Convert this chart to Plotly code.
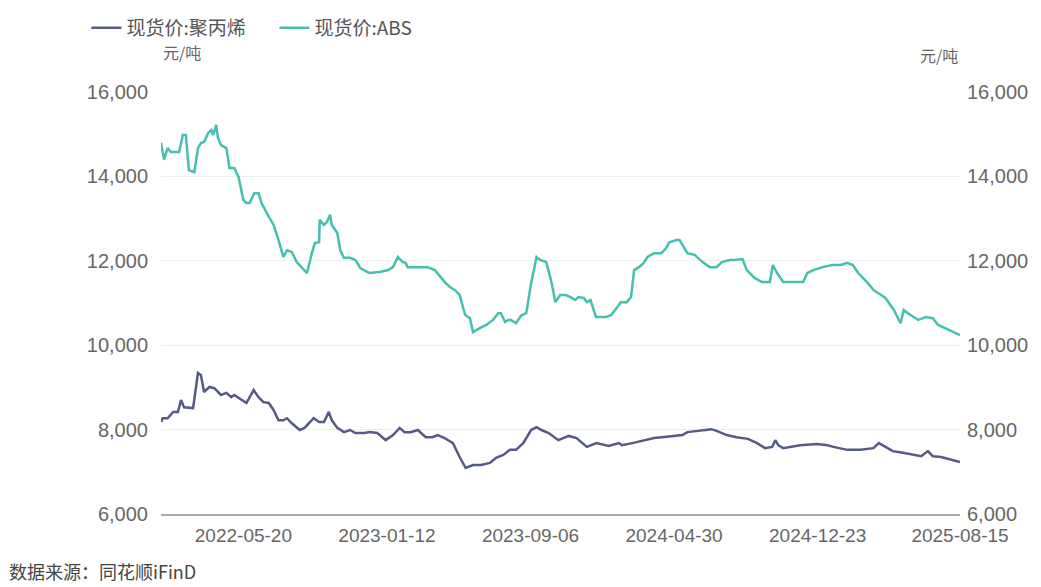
import plotly.graph_objects as go

pp_dates = [
    "2022-01-04", "2022-01-07", "2022-01-15", "2022-01-24", "2022-02-01", "2022-02-06", "2022-02-11",
    "2022-02-26", "2022-03-06", "2022-03-11", "2022-03-16", "2022-03-25", "2022-04-02", "2022-04-13",
    "2022-04-22", "2022-04-30", "2022-05-05", "2022-05-17", "2022-05-25", "2022-06-06", "2022-06-14",
    "2022-06-22", "2022-07-01", "2022-07-09", "2022-07-17", "2022-07-25", "2022-07-31", "2022-08-08",
    "2022-08-21", "2022-08-29", "2022-09-13", "2022-09-22", "2022-09-30", "2022-10-08", "2022-10-13",
    "2022-10-22", "2022-11-02", "2022-11-12", "2022-11-21", "2022-12-06", "2022-12-14", "2022-12-27",
    "2023-01-10", "2023-01-22", "2023-02-02", "2023-02-10", "2023-02-20", "2023-03-04", "2023-03-17",
    "2023-03-28", "2023-04-06", "2023-04-17", "2023-05-01", "2023-05-12", "2023-05-22", "2023-06-03",
    "2023-06-16", "2023-07-01", "2023-07-11", "2023-07-23", "2023-08-03", "2023-08-13", "2023-08-25",
    "2023-09-07", "2023-09-16", "2023-09-24", "2023-10-06", "2023-10-22", "2023-11-08", "2023-11-21",
    "2023-12-08", "2023-12-24", "2024-01-13", "2024-01-30", "2024-02-04", "2024-02-21", "2024-03-08",
    "2024-03-28", "2024-04-10", "2024-04-27", "2024-05-14", "2024-05-22", "2024-06-08", "2024-07-01",
    "2024-07-09", "2024-07-26", "2024-08-11", "2024-08-30", "2024-09-14", "2024-09-27", "2024-10-09",
    "2024-10-14", "2024-10-19", "2024-10-27", "2024-11-24", "2024-12-22", "2025-01-08", "2025-01-18",
    "2025-02-10", "2025-03-04", "2025-03-25", "2025-04-03", "2025-04-14", "2025-04-26", "2025-05-13",
    "2025-05-26", "2025-06-12", "2025-06-23", "2025-07-01", "2025-07-15", "2025-07-28", "2025-08-15",
]
pp_values = [
    8180, 8270, 8270, 8420, 8420, 8700, 8530,
    8510, 9340, 9290, 8890, 9010, 8980, 8820,
    8870, 8770, 8820, 8700, 8630, 8940, 8770,
    8650, 8630, 8460, 8220, 8220, 8270, 8150,
    7990, 8040, 8270, 8180, 8180, 8420, 8220,
    8040, 7940, 7990, 7920, 7920, 7940, 7920,
    7750, 7870, 8040, 7940, 7940, 7990, 7820,
    7820, 7870, 7800, 7680, 7350, 7090, 7160,
    7160, 7210, 7330, 7400, 7520, 7520, 7680,
    7990, 8060, 7990, 7920, 7750, 7850, 7800,
    7590, 7680, 7610, 7680, 7630, 7680, 7730,
    7800, 7820, 7850, 7870, 7940, 7970, 8010,
    7970, 7870, 7820, 7780, 7680, 7560, 7590,
    7750, 7630, 7560, 7630, 7660, 7630, 7590,
    7520, 7520, 7560, 7680, 7590, 7490, 7450,
    7420, 7370, 7490, 7370, 7350, 7300, 7230,
]

abs_dates = [
    "2022-01-04", "2022-01-09", "2022-01-15", "2022-01-20", "2022-02-03", "2022-02-09", "2022-02-14",
    "2022-02-19", "2022-02-28", "2022-03-06", "2022-03-11", "2022-03-16", "2022-03-23", "2022-03-28",
    "2022-03-31", "2022-04-05", "2022-04-08", "2022-04-13", "2022-04-22", "2022-04-27", "2022-05-05",
    "2022-05-12", "2022-05-20", "2022-05-25", "2022-05-30", "2022-06-07", "2022-06-14", "2022-06-19",
    "2022-07-01", "2022-07-09", "2022-07-17", "2022-07-25", "2022-07-31", "2022-08-08", "2022-08-16",
    "2022-08-28", "2022-09-02", "2022-09-10", "2022-09-15", "2022-09-22", "2022-09-23", "2022-09-30",
    "2022-10-05", "2022-10-10", "2022-10-13", "2022-10-22", "2022-10-27", "2022-11-02", "2022-11-12",
    "2022-11-21", "2022-11-29", "2022-12-10", "2022-12-15", "2023-01-02", "2023-01-14", "2023-01-22",
    "2023-01-30", "2023-02-07", "2023-02-12", "2023-02-15", "2023-03-20", "2023-04-01", "2023-04-11",
    "2023-04-19", "2023-04-26", "2023-05-04", "2023-05-12", "2023-05-21", "2023-05-29", "2023-06-03",
    "2023-06-15", "2023-06-25", "2023-07-06", "2023-07-15", "2023-07-19", "2023-07-26", "2023-07-31",
    "2023-08-05", "2023-08-13", "2023-08-22", "2023-08-30", "2023-09-07", "2023-09-16", "2023-09-22",
    "2023-10-02", "2023-10-11", "2023-10-17", "2023-10-25", "2023-11-03", "2023-11-11", "2023-11-19",
    "2023-11-24", "2023-12-03", "2023-12-08", "2023-12-14", "2023-12-23", "2024-01-08", "2024-01-17",
    "2024-01-27", "2024-02-02", "2024-02-12", "2024-02-19", "2024-02-24", "2024-03-03", "2024-03-11",
    "2024-03-17", "2024-03-28", "2024-04-09", "2024-04-17", "2024-04-22", "2024-05-04", "2024-05-09",
    "2024-05-22", "2024-06-03", "2024-06-16", "2024-06-28", "2024-07-09", "2024-07-18", "2024-07-31",
    "2024-08-08", "2024-08-21", "2024-08-28", "2024-09-10", "2024-09-22", "2024-10-05", "2024-10-10",
    "2024-10-17", "2024-10-27", "2024-11-11", "2024-11-29", "2024-12-06", "2024-12-16", "2024-12-31",
    "2025-01-16", "2025-01-30", "2025-02-10", "2025-02-19", "2025-02-28", "2025-03-16", "2025-03-25",
    "2025-04-14", "2025-04-28", "2025-05-09", "2025-05-14", "2025-05-26", "2025-06-07", "2025-06-20",
    "2025-07-01", "2025-07-10", "2025-07-20", "2025-08-05", "2025-08-15",
]
abs_values = [
    14800, 14400, 14670, 14580, 14580, 14980, 14980,
    14150, 14100, 14670, 14790, 14815, 15030, 15100,
    14980, 15220, 14910, 14740, 14670, 14200, 14200,
    13990, 13440, 13370, 13370, 13600, 13600, 13370,
    13040, 12850, 12490, 12090, 12250, 12210, 11970,
    11780, 11710, 12180, 12420, 12440, 12970, 12850,
    12920, 13090, 12850, 12660, 12250, 12070, 12070,
    12020, 11830, 11740, 11710, 11740, 11780, 11850,
    12090, 11970, 11950, 11850, 11850, 11780, 11610,
    11470, 11380, 11310, 11190, 10720, 10640, 10310,
    10410, 10480, 10600, 10760, 10760, 10550, 10600,
    10600, 10520, 10710, 10760, 11470, 12090, 12020,
    11970, 11470, 11020, 11190, 11190, 11140, 11070,
    11140, 11120, 11020, 11070, 10670, 10670, 10710,
    10900, 11020, 11020, 11140, 11780, 11850, 11950,
    12090, 12180, 12180, 12300, 12440, 12490, 12490,
    12180, 12140, 11970, 11850, 11850, 11970, 12020,
    12020, 12040, 11780, 11590, 11500, 11500, 11900,
    11710, 11500, 11500, 11500, 11710, 11780, 11850,
    11900, 11900, 11950, 11900, 11710, 11470, 11310,
    11120, 10830, 10520, 10830, 10710, 10600, 10670,
    10640, 10480, 10410, 10310, 10240,
]

tick_dates = ["2022-05-20", "2023-01-12", "2023-09-06", "2024-04-30", "2024-12-23", "2025-08-15"]
y_ticks = [6000, 8000, 10000, 12000, 14000, 16000]

series_names = ["现货价:聚丙烯", "现货价:ABS"]
unit_text = "元/吨"
source_text = "数据来源：同花顺iFinD"

PP_COLOR = "#555a86"
ABS_COLOR = "#47bfae"
TICK_FONT = dict(family="Liberation Sans, Arial, sans-serif", size=20, color="#666666")
XTICK_FONT = dict(family="Liberation Sans, Arial, sans-serif", size=19, color="#666666")
CJK = "Noto Sans CJK SC, sans-serif"

fig = go.Figure()
fig.add_trace(go.Scatter(x=pp_dates, y=pp_values, name=series_names[0], mode="lines",
                         line=dict(color=PP_COLOR, width=2.5), yaxis="y"))
fig.add_trace(go.Scatter(x=abs_dates, y=abs_values, name=series_names[1], mode="lines",
                         line=dict(color=ABS_COLOR, width=2.5), yaxis="y2"))

fig.update_layout(
    width=1041, height=587,
    margin=dict(l=161, r=81, t=92, b=73),
    paper_bgcolor="white", plot_bgcolor="white",
    showlegend=True,
    legend=dict(orientation="h", xref="container", yref="container",
                x=0.083, y=0.985, xanchor="left", yanchor="top",
                font=dict(family=CJK, size=19, color="#555555"),
                itemwidth=30, entrywidth=143, entrywidthmode="pixels",
                tracegroupgap=0, bgcolor="rgba(0,0,0,0)"),
    xaxis=dict(type="date", range=[pp_dates[0], pp_dates[-1]],
               tickvals=tick_dates, ticktext=tick_dates,
               showgrid=False, zeroline=False,
               showline=True, linecolor="#a8a8a8", linewidth=2,
               ticks="", tickfont=XTICK_FONT, ticklabelstandoff=3),
    yaxis=dict(range=[6000, 16000], tickvals=y_ticks, tickformat=",.0f",
               showgrid=True, gridcolor="#eeeeee", gridwidth=1,
               zeroline=False, showline=False, ticks="",
               tickfont=TICK_FONT, ticklabelstandoff=12),
    yaxis2=dict(range=[6000, 16000], tickvals=y_ticks, tickformat=",.0f",
                overlaying="y", side="right", showgrid=False,
                zeroline=False, showline=False, ticks="",
                tickfont=TICK_FONT, ticklabelstandoff=6),
    annotations=[
        dict(text=unit_text, xref="paper", yref="paper", x=0.0, y=1.095,
             xanchor="left", yanchor="middle", showarrow=False,
             font=dict(family=CJK, size=16, color="#666666")),
        dict(text=unit_text, xref="paper", yref="paper", x=1.0, y=1.088,
             xanchor="right", yanchor="middle", showarrow=False,
             font=dict(family=CJK, size=16, color="#666666")),
        dict(text=source_text, xref="paper", yref="paper", x=-0.193, y=-0.136,
             xanchor="left", yanchor="middle", showarrow=False,
             font=dict(family=CJK, size=18, color="#444444")),
    ],
)

fig.write_html("out.html")
